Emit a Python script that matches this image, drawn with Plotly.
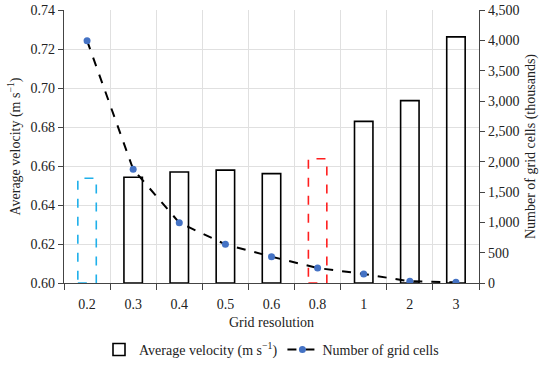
import plotly.graph_objects as go

categories = ["0.2", "0.3", "0.4", "0.5", "0.6", "0.8", "1", "2", "3"]
avg_velocity = [0.6537, 0.6542, 0.6569, 0.6579, 0.6561, 0.6637, 0.6829, 0.6935, 0.7262]
grid_cells = [3994, 1874, 994, 637, 434, 247, 148, 28, 12]
highlight = {0: "#1fb0ea", 5: "#ff1f1f"}  # bars drawn with dashed coloured outlines

font = dict(family="Liberation Serif", size=14, color="#222")
pos = list(range(len(categories)))
black_idx = [i for i in pos if i not in highlight]
bar_w = 0.4

fig = go.Figure()
fig.add_trace(go.Bar(
    x=[pos[i] for i in black_idx],
    y=[avg_velocity[i] - 0.60 for i in black_idx],
    base=0.60, width=bar_w,
    marker=dict(color="rgba(0,0,0,0)", line=dict(color="black", width=1.6)),
    name="Average velocity (m s<sup>\u22121</sup>)"))
fig.add_trace(go.Scatter(
    x=pos, y=grid_cells, yaxis="y2", mode="lines+markers",
    line=dict(color="black", dash="dash", width=2),
    marker=dict(color="#4472c4", size=7),
    name="Number of grid cells"))

shapes = []
for i, col in highlight.items():
    shapes.append(dict(type="rect", xref="x", yref="y",
                       x0=pos[i] - bar_w / 2, x1=pos[i] + bar_w / 2,
                       y0=0.60, y1=avg_velocity[i],
                       line=dict(color=col, width=1.6, dash="dash"),
                       fillcolor="rgba(0,0,0,0)", layer="above"))

boundaries = [p - 0.5 for p in pos] + [pos[-1] + 0.5]

fig.update_layout(
    width=550, height=375,
    margin=dict(l=64, r=71, t=10, b=92, autoexpand=False),
    paper_bgcolor="white", plot_bgcolor="white",
    font=font, barmode="overlay", shapes=shapes,
    xaxis=dict(range=[-0.5, len(categories) - 0.5], automargin=False,
               tickmode="array", tickvals=pos, ticktext=categories,
               ticks="", ticklabelstandoff=8, showgrid=False, showline=True, linecolor="#444",
               linewidth=1.3, zeroline=False,
               minor=dict(tickmode="array", tickvals=boundaries, ticks="outside",
                          ticklen=6, tickcolor="#444", showgrid=True, gridcolor="#e0e0e0"),
               title=dict(text="Grid resolution", font=font, standoff=6)),
    yaxis=dict(range=[0.60, 0.74], dtick=0.02, tickformat=".2f", automargin=False,
               ticks="outside", ticklen=5, tickcolor="#444",
               showgrid=True, gridcolor="#e0e0e0", showline=True, linecolor="#444",
               linewidth=1.3, zeroline=False,
               title=dict(text="Average velocity (m s<sup>\u22121</sup>)", font=font, standoff=6)),
    yaxis2=dict(range=[0, 4500], dtick=500, tickformat=",", overlaying="y", side="right",
                automargin=False,
                ticks="outside", ticklen=5, tickcolor="#444", showgrid=False,
                showline=True, linecolor="#444", linewidth=1.3, zeroline=False,
                title=dict(text="Number of grid cells (thousands)", font=font, standoff=6)),
    legend=dict(orientation="h", x=0.5, xanchor="center", y=-0.245, yanchor="middle",
                font=font, bgcolor="rgba(0,0,0,0)"),
)
fig.write_html("out.html", config={"displayModeBar": False},
               post_script="document.body.style.margin='0';")
